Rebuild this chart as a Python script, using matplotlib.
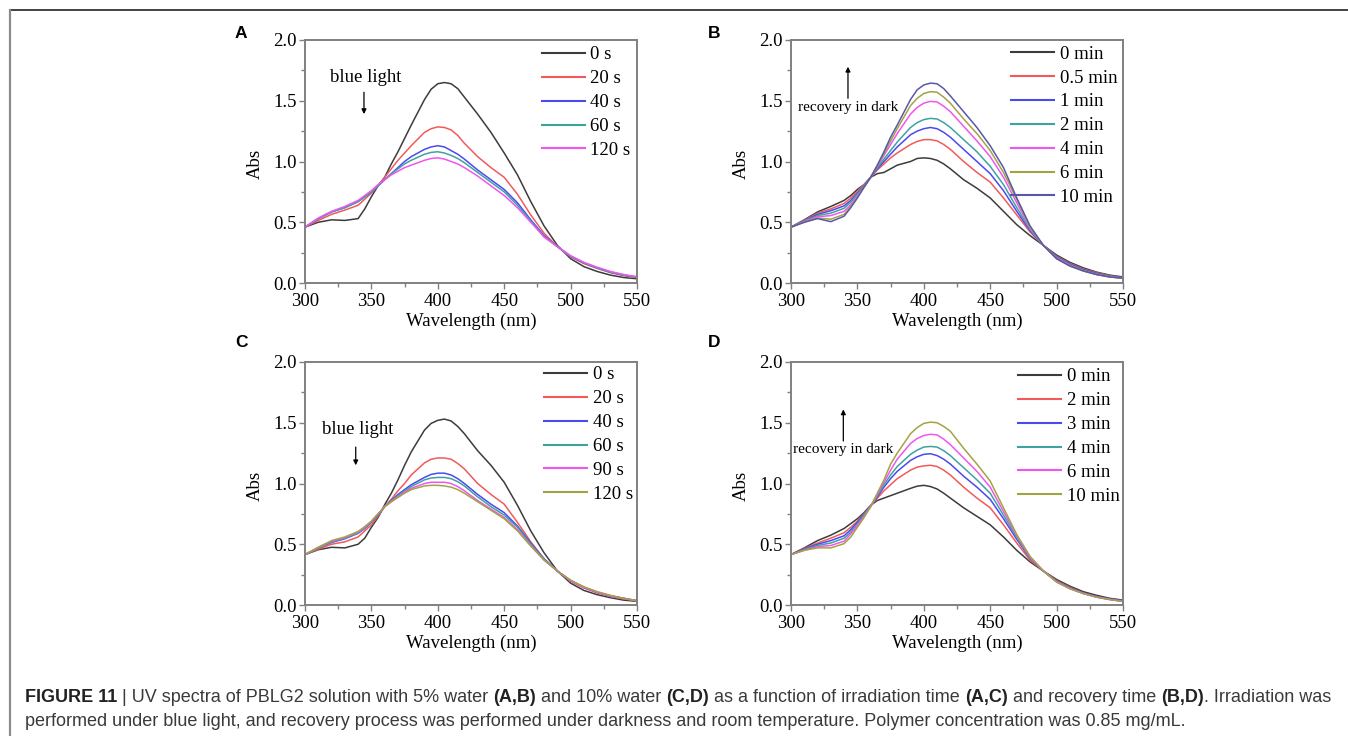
import matplotlib
matplotlib.use('Agg')
import matplotlib.pyplot as plt
from matplotlib.ticker import MultipleLocator
from matplotlib.lines import Line2D
from matplotlib import transforms as mtransforms

# ---------------- data ----------------
WL = [300, 310, 320, 330, 340, 345, 350, 355, 360, 365, 370, 375, 380, 390, 395, 400, 405,
      410, 415, 420, 430, 440, 450, 460, 470, 480, 490, 500, 510, 520, 530, 540, 550]

A_LABELS = ['0 s', '20 s', '40 s', '60 s', '120 s']
A_0 = [0.46, 0.50, 0.52, 0.515, 0.53, 0.61, 0.71, 0.80, 0.87, 0.98, 1.08, 1.19, 1.30, 1.51, 1.595, 1.64, 1.65,
       1.64, 1.60, 1.53, 1.39, 1.24, 1.07, 0.89, 0.67, 0.47, 0.31, 0.20, 0.135, 0.095, 0.065, 0.045, 0.035]
A_20 = [0.46, 0.515, 0.565, 0.60, 0.64, 0.69, 0.74, 0.80, 0.87, 0.94, 1.01, 1.07, 1.13, 1.24, 1.27, 1.285, 1.28,
        1.26, 1.215, 1.15, 1.04, 0.95, 0.87, 0.73, 0.56, 0.41, 0.30, 0.215, 0.16, 0.12, 0.085, 0.06, 0.045]
A_40 = [0.46, 0.53, 0.585, 0.62, 0.67, 0.71, 0.75, 0.80, 0.85, 0.90, 0.95, 1.00, 1.04, 1.10, 1.12, 1.13, 1.12,
        1.09, 1.06, 1.02, 0.93, 0.85, 0.77, 0.66, 0.52, 0.39, 0.30, 0.22, 0.165, 0.125, 0.09, 0.065, 0.05]
A_60 = [0.46, 0.53, 0.585, 0.62, 0.67, 0.71, 0.75, 0.80, 0.85, 0.90, 0.94, 0.98, 1.01, 1.06, 1.075, 1.08, 1.07,
        1.05, 1.025, 0.99, 0.91, 0.83, 0.75, 0.64, 0.51, 0.38, 0.30, 0.22, 0.165, 0.125, 0.09, 0.065, 0.05]
A_120 = [0.46, 0.535, 0.59, 0.63, 0.68, 0.72, 0.76, 0.81, 0.85, 0.89, 0.92, 0.95, 0.97, 1.01, 1.025, 1.03, 1.02,
         1.00, 0.98, 0.95, 0.88, 0.80, 0.72, 0.62, 0.50, 0.38, 0.30, 0.225, 0.17, 0.13, 0.095, 0.07, 0.05]

B_LABELS = ['0 min', '0.5 min', '1 min', '2 min', '4 min', '6 min', '10 min']
B_0 = [0.46, 0.52, 0.585, 0.63, 0.68, 0.72, 0.77, 0.81, 0.87, 0.90, 0.91, 0.94, 0.97, 1.00, 1.025, 1.03, 1.025,
       1.01, 0.98, 0.94, 0.85, 0.78, 0.70, 0.59, 0.48, 0.39, 0.31, 0.23, 0.17, 0.125, 0.09, 0.065, 0.05]
B_05 = [0.46, 0.515, 0.575, 0.61, 0.655, 0.70, 0.755, 0.81, 0.87, 0.93, 0.98, 1.03, 1.07, 1.14, 1.165, 1.18, 1.18,
        1.17, 1.14, 1.10, 1.00, 0.91, 0.83, 0.70, 0.56, 0.42, 0.31, 0.22, 0.16, 0.115, 0.085, 0.06, 0.045]
B_1 = [0.46, 0.51, 0.565, 0.595, 0.635, 0.68, 0.74, 0.80, 0.87, 0.94, 1.00, 1.06, 1.12, 1.22, 1.25, 1.27, 1.28,
       1.27, 1.24, 1.20, 1.10, 1.00, 0.90, 0.76, 0.59, 0.43, 0.31, 0.215, 0.155, 0.11, 0.08, 0.055, 0.045]
B_2 = [0.46, 0.51, 0.555, 0.575, 0.615, 0.665, 0.73, 0.80, 0.87, 0.95, 1.02, 1.09, 1.16, 1.28, 1.32, 1.345, 1.355,
       1.35, 1.32, 1.28, 1.18, 1.08, 0.96, 0.81, 0.62, 0.44, 0.31, 0.21, 0.15, 0.105, 0.075, 0.055, 0.04]
B_4 = [0.46, 0.505, 0.545, 0.555, 0.59, 0.645, 0.715, 0.79, 0.87, 0.96, 1.05, 1.14, 1.23, 1.39, 1.445, 1.48, 1.495,
       1.49, 1.455, 1.41, 1.29, 1.17, 1.04, 0.87, 0.66, 0.45, 0.31, 0.205, 0.145, 0.10, 0.07, 0.05, 0.04]
B_6 = [0.46, 0.50, 0.535, 0.525, 0.565, 0.63, 0.705, 0.785, 0.87, 0.965, 1.065, 1.17, 1.27, 1.46, 1.52, 1.56, 1.575,
       1.57, 1.53, 1.48, 1.35, 1.23, 1.09, 0.91, 0.69, 0.46, 0.31, 0.20, 0.14, 0.10, 0.07, 0.05, 0.04]
B_10 = [0.46, 0.50, 0.53, 0.505, 0.55, 0.62, 0.70, 0.79, 0.87, 0.97, 1.08, 1.20, 1.30, 1.51, 1.59, 1.63, 1.645,
        1.64, 1.60, 1.54, 1.41, 1.28, 1.13, 0.95, 0.70, 0.47, 0.31, 0.20, 0.14, 0.10, 0.07, 0.05, 0.04]

C_LABELS = ['0 s', '20 s', '40 s', '60 s', '90 s', '120 s']
C_0 = [0.415, 0.455, 0.475, 0.47, 0.50, 0.55, 0.64, 0.72, 0.825, 0.92, 1.03, 1.15, 1.26, 1.44, 1.495, 1.52, 1.53,
       1.515, 1.47, 1.41, 1.27, 1.15, 1.01, 0.82, 0.61, 0.43, 0.28, 0.18, 0.12, 0.085, 0.06, 0.04, 0.03]
C_20 = [0.415, 0.46, 0.50, 0.52, 0.56, 0.61, 0.66, 0.73, 0.81, 0.87, 0.94, 1.00, 1.07, 1.17, 1.20, 1.21, 1.21,
        1.20, 1.165, 1.12, 1.00, 0.91, 0.83, 0.68, 0.52, 0.38, 0.28, 0.195, 0.14, 0.10, 0.07, 0.05, 0.035]
C_40 = [0.415, 0.47, 0.515, 0.545, 0.59, 0.63, 0.68, 0.74, 0.81, 0.86, 0.91, 0.95, 0.99, 1.05, 1.075, 1.085, 1.085,
        1.07, 1.04, 1.00, 0.91, 0.83, 0.76, 0.65, 0.51, 0.38, 0.28, 0.20, 0.145, 0.105, 0.075, 0.055, 0.035]
C_60 = [0.415, 0.47, 0.52, 0.55, 0.595, 0.635, 0.685, 0.745, 0.81, 0.855, 0.90, 0.94, 0.975, 1.03, 1.045, 1.05, 1.05,
        1.04, 1.015, 0.98, 0.89, 0.81, 0.74, 0.64, 0.50, 0.375, 0.28, 0.20, 0.145, 0.105, 0.075, 0.055, 0.035]
C_90 = [0.415, 0.475, 0.525, 0.555, 0.60, 0.64, 0.69, 0.75, 0.81, 0.85, 0.89, 0.93, 0.96, 1.00, 1.01, 1.01, 1.01,
        1.00, 0.975, 0.94, 0.86, 0.79, 0.72, 0.62, 0.49, 0.37, 0.28, 0.20, 0.145, 0.105, 0.075, 0.055, 0.035]
C_120 = [0.415, 0.475, 0.53, 0.56, 0.605, 0.645, 0.69, 0.75, 0.81, 0.85, 0.885, 0.92, 0.95, 0.98, 0.985, 0.985, 0.98,
         0.97, 0.95, 0.92, 0.85, 0.78, 0.71, 0.61, 0.485, 0.37, 0.28, 0.205, 0.15, 0.11, 0.08, 0.055, 0.035]

D_LABELS = ['0 min', '2 min', '3 min', '4 min', '6 min', '10 min']
D_0 = [0.415, 0.47, 0.53, 0.575, 0.63, 0.67, 0.71, 0.76, 0.82, 0.86, 0.88, 0.90, 0.92, 0.96, 0.978, 0.985, 0.975,
       0.955, 0.92, 0.88, 0.80, 0.73, 0.66, 0.56, 0.45, 0.355, 0.28, 0.21, 0.155, 0.11, 0.08, 0.055, 0.04]
D_2 = [0.415, 0.465, 0.51, 0.55, 0.595, 0.64, 0.69, 0.75, 0.815, 0.88, 0.94, 0.99, 1.04, 1.11, 1.135, 1.145, 1.15,
       1.14, 1.11, 1.07, 0.97, 0.88, 0.80, 0.66, 0.51, 0.37, 0.28, 0.20, 0.145, 0.10, 0.07, 0.05, 0.035]
D_3 = [0.415, 0.46, 0.50, 0.53, 0.57, 0.62, 0.68, 0.745, 0.815, 0.89, 0.97, 1.04, 1.10, 1.19, 1.22, 1.24, 1.245,
       1.23, 1.20, 1.16, 1.06, 0.97, 0.87, 0.71, 0.54, 0.385, 0.28, 0.195, 0.14, 0.10, 0.07, 0.05, 0.035]
D_4 = [0.415, 0.455, 0.49, 0.51, 0.55, 0.60, 0.665, 0.74, 0.815, 0.90, 0.99, 1.07, 1.14, 1.24, 1.275, 1.30, 1.305,
       1.30, 1.27, 1.23, 1.13, 1.03, 0.92, 0.74, 0.555, 0.39, 0.28, 0.19, 0.135, 0.095, 0.065, 0.045, 0.03]
D_6 = [0.415, 0.45, 0.48, 0.49, 0.525, 0.585, 0.655, 0.73, 0.81, 0.91, 1.01, 1.11, 1.20, 1.33, 1.37, 1.395, 1.405,
       1.40, 1.365, 1.32, 1.21, 1.10, 0.97, 0.77, 0.57, 0.395, 0.28, 0.19, 0.135, 0.095, 0.065, 0.045, 0.03]
D_10 = [0.415, 0.45, 0.47, 0.47, 0.505, 0.56, 0.64, 0.72, 0.81, 0.92, 1.03, 1.16, 1.25, 1.41, 1.46, 1.495, 1.505,
        1.50, 1.47, 1.43, 1.29, 1.16, 1.02, 0.80, 0.58, 0.40, 0.28, 0.19, 0.135, 0.095, 0.065, 0.045, 0.03]

CAPTION_1 = [("FIGURE 11", True), (" | UV spectra of PBLG2 solution with 5% water ", False),
             ("(A,B)", True), (" and 10% water ", False), ("(C,D)", True),
             (" as a function of irradiation time ", False), ("(A,C)", True),
             (" and recovery time ", False), ("(B,D)", True), (". Irradiation was", False)]
CAPTION_2 = [("performed under blue light, and recovery process was performed under darkness "
              "and room temperature. Polymer concentration was 0.85 mg/mL.", False)]

# ---------------- style ----------------
W, H = 1348, 736
SERIF = 'Liberation Serif'
SANS = 'Liberation Sans'
FS = 13.5
COL = {'k': '#3c3c3c', 'r': '#f25a5a', 'b': '#4a4af0', 't': '#3ea3a0',
       'm': '#f055f0', 'o': '#a3a343', 'n': '#5858aa'}
GREY = '#808080'

plt.rcParams['font.family'] = SERIF

fig = plt.figure(figsize=(W / 100, H / 100), dpi=100)


def rect(l, t, r, b):
    return [l / W, 1 - b / H, (r - l) / W, (b - t) / H]


panels = [
    dict(letter='A', box=(305, 40, 637, 283), series=[A_0, A_20, A_40, A_60, A_120],
         labels=A_LABELS, colors='krbtm', leg=(0.713, 0.974),
         note='blue light', note_xy=(346, 1.695), note_fs=FS, arrow=(344.4, 1.57, 1.39)),
    dict(letter='B', box=(791, 40, 1123, 283), series=[B_0, B_05, B_1, B_2, B_4, B_6, B_10],
         labels=B_LABELS, colors='krbtmon', leg=(0.662, 0.977),
         note='recovery in dark', note_xy=(343, 1.446), note_fs=11, arrow=(342.9, 1.52, 1.78)),
    dict(letter='C', box=(305, 362, 637, 605), series=[C_0, C_20, C_40, C_60, C_90, C_120],
         labels=C_LABELS, colors='krbtmo', leg=(0.72, 0.982),
         note='blue light', note_xy=(340, 1.443), note_fs=FS, arrow=(338.2, 1.30, 1.15)),
    dict(letter='D', box=(791, 362, 1123, 605), series=[D_0, D_2, D_3, D_4, D_6, D_10],
         labels=D_LABELS, colors='krbtmo', leg=(0.684, 0.974),
         note='recovery in dark', note_xy=(339.2, 1.278), note_fs=11, arrow=(339.4, 1.35, 1.61)),
]

for p in panels:
    l, t, r, b = p['box']
    ax = fig.add_axes(rect(l, t, r, b))
    for ys, lab, c in zip(p['series'], p['labels'], p['colors']):
        assert len(ys) == len(WL)
        ax.plot(WL, ys, color=COL[c], lw=1.1, label=lab)
    ax.set_xlim(300, 550)
    ax.set_ylim(0, 2.0)
    ax.xaxis.set_major_locator(MultipleLocator(50))
    ax.xaxis.set_minor_locator(MultipleLocator(25))
    ax.yaxis.set_major_locator(MultipleLocator(0.5))
    ax.yaxis.set_minor_locator(MultipleLocator(0.25))
    ax.tick_params(which='both', direction='out', color=GREY, width=1.0,
                   labelsize=FS, top=False, right=False, pad=2)
    ax.tick_params(axis='x', which='both', pad=3.5)
    ax.tick_params(which='major', length=4)
    ax.tick_params(which='minor', length=3)
    for s in ax.spines.values():
        s.set_color(GREY)
        s.set_linewidth(1.4)
    ax.set_xlabel('Wavelength (nm)', fontsize=FS)
    ax.set_ylabel('Abs', fontsize=FS)
    ax.xaxis.set_label_coords(0.5, -0.123)
    ax.yaxis.set_label_coords(-0.125, 0.49)
    leg = ax.legend(loc='upper left', bbox_to_anchor=p['leg'], frameon=False,
                    borderpad=0, borderaxespad=0, handlelength=2.3,
                    handletextpad=0.3, labelspacing=0.36, fontsize=FS)
    for line in leg.get_lines():
        line.set_linewidth(1.5)
    ax.text(p['note_xy'][0], p['note_xy'][1], p['note'], fontsize=p['note_fs'],
            ha='center', va='center')
    ax_x, y0, y1 = p['arrow']
    ax.annotate('', xy=(ax_x, y1), xytext=(ax_x, y0),
                arrowprops=dict(arrowstyle='-|>', color='black', lw=0.9,
                                mutation_scale=7, shrinkA=0, shrinkB=0))
    # panel letter
    lx = 241 if p['letter'] in 'AC' else 714
    ly = 34 if p['letter'] in 'AB' else 343
    fig.text(lx / W, 1 - ly / H, p['letter'], family=SANS, weight='bold',
             fontsize=12.5, ha='center', va='center', color='black')

# figure frame (top and left rules)
fig.add_artist(Line2D([10 / W, 1.0], [1 - 10 / H, 1 - 10 / H], transform=fig.transFigure,
                      color='#222222', lw=1.2))
fig.add_artist(Line2D([10 / W, 10 / W], [0.0, 1 - 10 / H], transform=fig.transFigure,
                      color='#8c8c8c', lw=1.6))

# caption with mixed weights
renderer = fig.canvas.get_renderer()
ident = mtransforms.IdentityTransform()


def text_w(s, size, bold):
    t = fig.text(0, 0, s, fontsize=size, fontweight='bold' if bold else 'normal',
                 family=SANS, transform=ident)
    w = t.get_window_extent(renderer).width
    t.remove()
    return w


def line_width(parts, size):
    sp = text_w('a a', size, False) - text_w('aa', size, False)
    total = 0
    for s, bold in parts:
        lead = len(s) - len(s.lstrip(' '))
        trail = len(s) - len(s.rstrip(' '))
        total += (lead + trail) * sp + text_w(s.strip(), size, bold)
    return total


base = 12.0
cap_size = base * (1312 / line_width(CAPTION_1, base))


def draw_line(parts, x, y, size):
    sp = text_w('a a', size, False) - text_w('aa', size, False)
    for s, bold in parts:
        lead = len(s) - len(s.lstrip(' '))
        trail = len(s) - len(s.rstrip(' '))
        x += lead * sp
        core = s.strip()
        fig.text(x, y, core, fontsize=size, fontweight='bold' if bold else 'normal',
                 family=SANS, transform=ident, va='baseline', ha='left',
                 color='#222222' if bold else '#3a3a3a')
        x += text_w(core, size, bold) + trail * sp


draw_line(CAPTION_1, 25, H - 702, cap_size)
draw_line(CAPTION_2, 25, H - 726, cap_size)

fig.savefig('out.png', dpi=100)
